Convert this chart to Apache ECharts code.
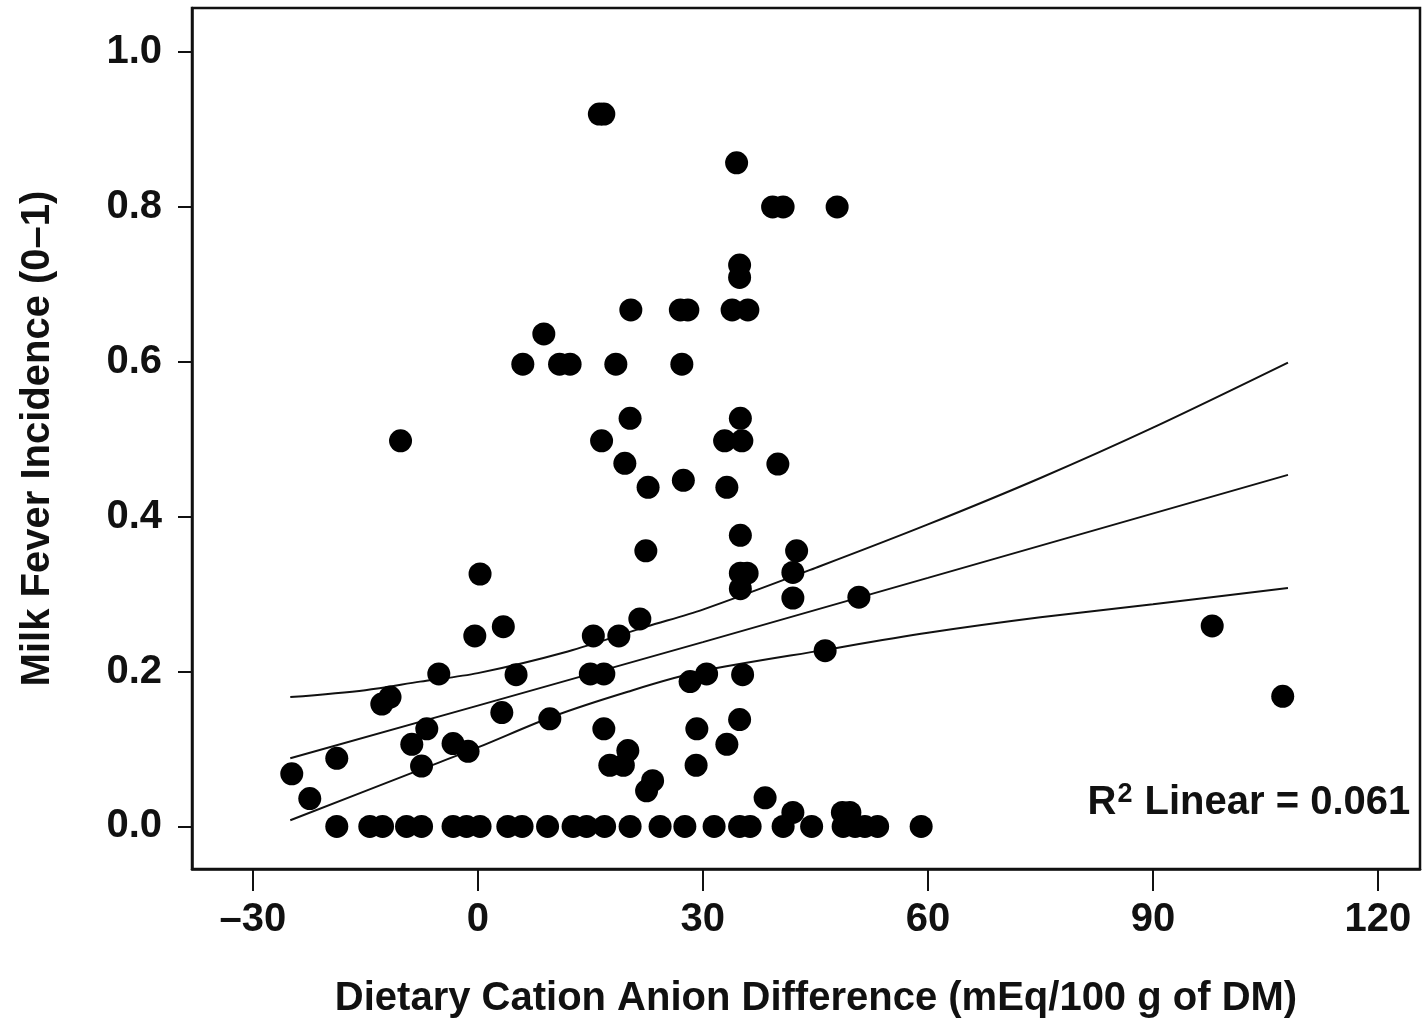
<!DOCTYPE html>
<html>
<head>
<meta charset="utf-8">
<script src="https://cdn.jsdelivr.net/npm/echarts@6/dist/echarts.min.js"></script>
<style>
  html, body { margin: 0; padding: 0; background: #fff; }
  #chart { width: 1422px; height: 1024px; }
</style>
</head>
<body>
<div id="chart"></div>
<script>
// Herd observations: DCAD (mEq/100 g DM) and milk fever incidence (0-1)
const dcad = [
  16.2, 16.8, 34.5, 39.3, 40.7, 47.9, 34.9, 34.9,
  20.4, 27.0, 28.0, 33.9, 36.0, 8.8,
  6.0, 10.9, 12.3, 18.4, 27.2, -10.3,
  20.3, 35.0, 16.5, 32.9, 35.2, 19.6, 40.0,
  22.7, 27.4, 33.2, 35.0, 22.4, 42.5,
  0.3, 35.0, 35.9, 42.0, 35.0, 42.0, 50.8,
  21.6, 3.4, 97.9, -0.4, 15.4, 18.8, 46.3,
  -5.2, 5.1, 15.0, 16.8, 30.5, 35.3, 28.3, 107.3,
  -12.8, -11.7, 3.2, 9.6, 34.9,
  -6.8, 16.8, 29.2, -8.8, -3.3, 33.2, -1.3, 20.0,
  -18.8, -7.5, 17.6, 19.4, 29.1, -24.8, 23.3, 22.5,
  -22.4, 38.3, 42.0, 48.6, 49.6,
  -18.8, -14.4, -12.7, -9.5, -7.5, -3.3, -1.5, 0.3, 4.0, 5.9, 9.3,
  12.7, 14.5, 16.9, 20.3, 24.3, 27.6, 31.5, 34.9, 36.3, 40.7, 44.5,
  48.7, 50.3, 51.6, 53.3, 59.1
];
const incidence = [
  0.92, 0.92, 0.857, 0.80, 0.80, 0.80, 0.725, 0.709,
  0.667, 0.667, 0.667, 0.667, 0.667, 0.636,
  0.597, 0.597, 0.597, 0.597, 0.597, 0.498,
  0.527, 0.527, 0.498, 0.498, 0.498, 0.469, 0.468,
  0.438, 0.447, 0.438, 0.376, 0.356, 0.356,
  0.326, 0.327, 0.327, 0.328, 0.307, 0.295, 0.296,
  0.268, 0.258, 0.259, 0.246, 0.246, 0.246, 0.227,
  0.197, 0.196, 0.197, 0.197, 0.197, 0.196, 0.187, 0.168,
  0.158, 0.167, 0.147, 0.139, 0.138,
  0.126, 0.126, 0.126, 0.106, 0.107, 0.106, 0.097, 0.098,
  0.088, 0.078, 0.079, 0.079, 0.079, 0.068, 0.059, 0.046,
  0.036, 0.037, 0.018, 0.018, 0.018,
  0, 0, 0, 0, 0, 0, 0, 0, 0, 0, 0,
  0, 0, 0, 0, 0, 0, 0, 0, 0, 0, 0,
  0, 0, 0, 0, 0
];

// Linear fit and its confidence band
const fitX = [-25, 0, 30, 60, 108];
const fitY = [0.088, 0.156, 0.238, 0.321, 0.454];
const upperX = [-25, -15, -7.7, 0, 12, 22.5, 30, 45.6, 60, 75, 90, 108];
const upperY = [0.167, 0.176, 0.187, 0.198, 0.226, 0.258, 0.280, 0.336, 0.390, 0.450, 0.515, 0.599];
const lowerX = [-25, -8, 0, 10, 20, 29.6, 46.3, 60, 75, 90, 108];
const lowerY = [0.008, 0.072, 0.102, 0.142, 0.174, 0.200, 0.228, 0.250, 0.270, 0.287, 0.308];

const xTicks = [-30, 0, 30, 60, 90, 120];
const yTicks = [0, 0.2, 0.4, 0.6, 0.8, 1.0];

const xTitle = 'Dietary Cation Anion Difference (mEq/100 g of DM)';
const yTitle = 'Milk Fever Incidence (0\u20131)';
const r2Value = '0.061';

const pairs = (xs, ys) => xs.map((x, i) => [x, ys[i]]);
const ink = '#111';
const font = '"Liberation Sans", Arial, sans-serif';
const textSize = 40;

const chart = echarts.init(document.getElementById('chart'));
const bandLine = { color: ink, width: 2 };

chart.setOption({
  animation: false,
  backgroundColor: '#fff',
  grid: {
    left: 192, top: 8, right: 2, bottom: 153,
    show: true, borderColor: ink, borderWidth: 2.5, backgroundColor: 'transparent'
  },
  xAxis: {
    type: 'value', min: -38.1, max: 125.6,
    name: xTitle, nameLocation: 'middle', nameGap: 110,
    nameTextStyle: { fontFamily: font, fontWeight: 'bold', fontSize: textSize, color: ink, padding: [0, 0, 0, 20] },
    axisLine: { show: true, onZero: false, lineStyle: { color: ink, width: 2.5 } },
    axisTick: { show: true, customValues: xTicks, length: 22, inside: false, lineStyle: { color: ink, width: 2 } },
    axisLabel: {
      customValues: xTicks, margin: 31, fontFamily: font, fontWeight: 'bold', fontSize: textSize, color: ink,
      formatter: v => String(v).replace('-', '\u2013')
    },
    splitLine: { show: false }
  },
  yAxis: {
    type: 'value', min: -0.055, max: 1.057,
    name: yTitle, nameLocation: 'middle', nameGap: 134, nameRotate: 90,
    nameTextStyle: { fontFamily: font, fontWeight: 'bold', fontSize: textSize, color: ink },
    axisLine: { show: true, onZero: false, lineStyle: { color: ink, width: 2.5 } },
    axisTick: { show: true, customValues: yTicks, length: 14, inside: false, lineStyle: { color: ink, width: 2 } },
    axisLabel: {
      customValues: yTicks, margin: 30, fontFamily: font, fontWeight: 'bold', fontSize: textSize, color: ink,
      formatter: v => v.toFixed(1)
    },
    splitLine: { show: false }
  },
  series: [
    {
      type: 'line', data: pairs(upperX, upperY), smooth: 0.3, symbol: 'none',
      lineStyle: bandLine, z: 3
    },
    {
      type: 'line', data: pairs(fitX, fitY), symbol: 'none',
      lineStyle: bandLine, z: 3
    },
    {
      type: 'line', data: pairs(lowerX, lowerY), smooth: 0.3, symbol: 'none',
      lineStyle: bandLine, z: 3
    },
    {
      type: 'scatter', data: pairs(dcad, incidence), symbol: 'circle', symbolSize: 23,
      itemStyle: { color: '#000', opacity: 1 }, z: 4,
      markPoint: {
        symbol: 'rect', symbolSize: 0,
        data: [{ coord: [124.3, 0.03] }],
        label: {
          show: true, position: 'left', distance: 0,
          formatter: '{r|R}{s|2}{r| Linear = ' + r2Value + '}',
          rich: {
            r: { fontFamily: font, fontWeight: 'bold', fontSize: textSize, color: ink },
            s: { fontFamily: font, fontWeight: 'bold', fontSize: 27, color: ink, verticalAlign: 'top', padding: [0, 1, 18, 1] }
          }
        }
      }
    }
  ]
});
</script>
</body>
</html>
